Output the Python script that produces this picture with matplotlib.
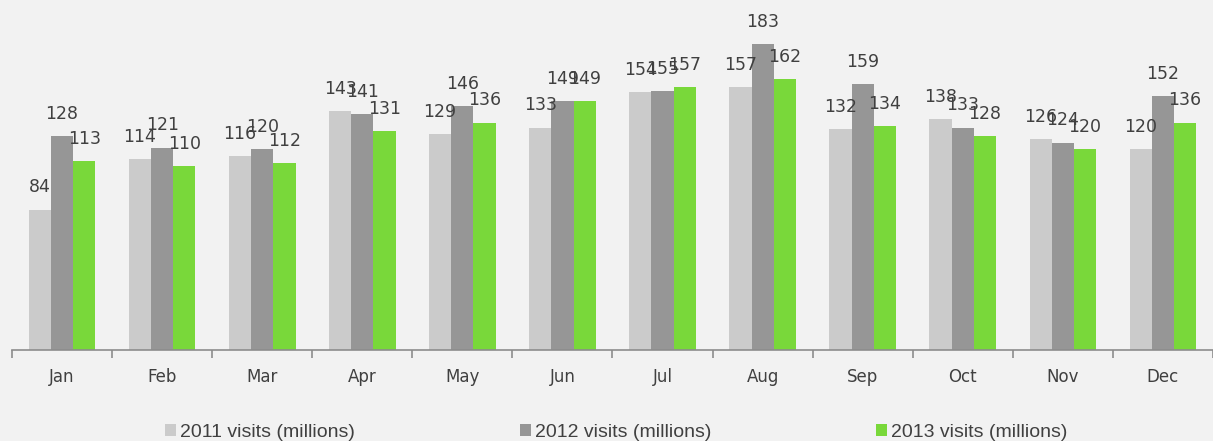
import numpy as np
import matplotlib
matplotlib.use("Agg")
import matplotlib.pyplot as plt

months = ["Jan", "Feb", "Mar", "Apr", "May", "Jun", "Jul", "Aug", "Sep", "Oct", "Nov", "Dec"]
visits_2011 = [84, 114, 116, 143, 129, 133, 154, 157, 132, 138, 126, 120]
visits_2012 = [128, 121, 120, 141, 146, 149, 155, 183, 159, 133, 124, 152]
visits_2013 = [113, 110, 112, 131, 136, 149, 157, 162, 134, 128, 120, 136]
series_names = ["2011 visits (millions)", "2012 visits (millions)", "2013 visits (millions)"]
colors = ["#cbcbcb", "#969696", "#79d83a"]

bg = "#f2f2f2"
txt = "#404040"

fig = plt.figure(figsize=(12.13, 4.41), dpi=100, facecolor=bg)
ax = fig.add_axes([12 / 1213, 91 / 441, 1 - 12 / 1213, 350 / 441])
ax.set_facecolor(bg)

x = np.arange(len(months))
w = 0.222
for i, vals in enumerate([visits_2011, visits_2012, visits_2013]):
    pos = x + (i - 1) * w
    ax.bar(pos, vals, width=w, color=colors[i], label=series_names[i])
    for p, v in zip(pos, vals):
        ax.annotate(str(v), (p, v), xytext=(0, 9.5), textcoords="offset points",
                    ha="center", va="bottom", fontsize=12.5, color=txt)

ax.set_xlim(-0.5, len(months) - 0.5)
ax.set_ylim(0, 209.3)
for s in ["top", "right", "left"]:
    ax.spines[s].set_visible(False)
ax.spines["bottom"].set_color("#8c8c8c")
ax.spines["bottom"].set_linewidth(1.2)
ax.set_yticks([])
ax.set_xticks(x)
ax.set_xticklabels(months, fontsize=12, color=txt)
ax.tick_params(axis="x", which="major", length=0, pad=13)
ax.set_xticks(np.arange(-0.5, len(months), 1), minor=True)
ax.tick_params(axis="x", which="minor", length=6, width=1.2, color="#8c8c8c", direction="out")

leg = fig.legend(loc="lower center", bbox_to_anchor=(0.508, -0.04), ncol=3, frameon=False,
                 handlelength=0.55, handleheight=0.55, handletextpad=0.2, columnspacing=8.5,
                 prop={"family": ["Liberation Sans", "DejaVu Sans"], "size": 14})
for t in leg.get_texts():
    t.set_color(txt)

fig.savefig("out.png", dpi=100, facecolor=bg)
